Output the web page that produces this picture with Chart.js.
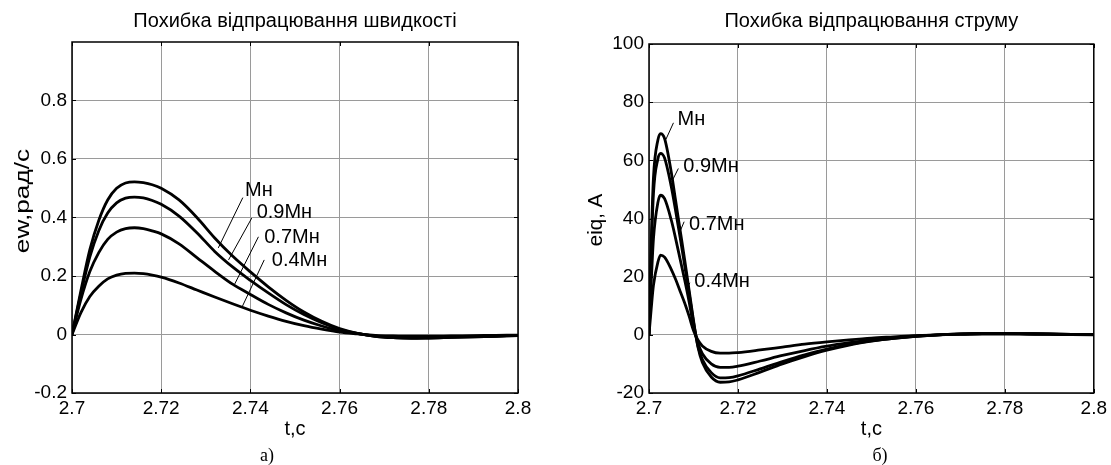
<!DOCTYPE html>
<html>
<head>
<meta charset="utf-8">
<script src="https://cdn.jsdelivr.net/npm/chart.js@4.4.1/dist/chart.umd.min.js"></script>
<style>
  body { margin: 0; background: #fff; width: 1111px; height: 465px; position: relative; overflow: hidden; }
  canvas { position: absolute; top: 0; }
  #speed-chart { left: 0; }
  #current-chart { left: 560px; }
</style>
</head>
<body>
<canvas id="speed-chart" width="560" height="465"></canvas>
<canvas id="current-chart" width="551" height="465"></canvas>
<script>
// ── Data ─────────────────────────────────────────────────────────────────────
const LOADS = ['Мн', '0.9Мн', '0.7Мн', '0.4Мн'];

const X_TICKS   = [2.7, 2.72, 2.74, 2.76, 2.78, 2.8];
const EW_TICKS  = [-0.2, 0, 0.2, 0.4, 0.6, 0.8];
const EIQ_TICKS = [-20, 0, 20, 40, 60, 80, 100];

// speed error, rad/s
const T_SPEED = [2.700, 2.702, 2.704, 2.706, 2.708, 2.710, 2.712, 2.714, 2.716, 2.718,
                 2.720, 2.724, 2.728, 2.732, 2.736, 2.740, 2.744, 2.748, 2.752, 2.756,
                 2.760, 2.764, 2.768, 2.772, 2.776, 2.780, 2.785, 2.790, 2.795, 2.800];
const EW_MN  = [0, 0.15, 0.29, 0.39, 0.46, 0.50, 0.518, 0.522, 0.519, 0.512,
                0.500, 0.460, 0.400, 0.330, 0.268, 0.214, 0.163, 0.117, 0.077, 0.045,
                0.020, 0.004, -0.006, -0.011, -0.013, -0.012, -0.010, -0.008, -0.006, -0.004];
const EW_09  = [0, 0.14, 0.265, 0.355, 0.415, 0.45, 0.466, 0.470, 0.467, 0.458,
                0.445, 0.405, 0.348, 0.284, 0.231, 0.185, 0.142, 0.102, 0.068, 0.040,
                0.018, 0.004, -0.006, -0.011, -0.012, -0.012, -0.010, -0.008, -0.006, -0.004];
const EW_07  = [0, 0.12, 0.215, 0.28, 0.325, 0.35, 0.362, 0.365, 0.362, 0.354,
                0.344, 0.310, 0.263, 0.216, 0.172, 0.137, 0.103, 0.074, 0.049, 0.029,
                0.013, 0.003, -0.005, -0.009, -0.010, -0.010, -0.008, -0.007, -0.005, -0.003];
const EW_04  = [0, 0.075, 0.13, 0.165, 0.19, 0.203, 0.209, 0.210, 0.208, 0.203,
                0.196, 0.176, 0.152, 0.128, 0.105, 0.083, 0.063, 0.045, 0.030, 0.018,
                0.008, 0.002, -0.003, -0.005, -0.006, -0.006, -0.005, -0.004, -0.003, -0.002];

// current error, A
const T_CURRENT = [2.700, 2.7005, 2.701, 2.702, 2.7026, 2.7035, 2.705, 2.706, 2.707, 2.708,
                   2.709, 2.710, 2.711, 2.712, 2.714, 2.716, 2.718, 2.720, 2.725, 2.730,
                   2.735, 2.740, 2.745, 2.750, 2.755, 2.760, 2.765, 2.770, 2.775, 2.780,
                   2.785, 2.790, 2.795, 2.800];
const EIQ_MN = [0, 32, 54, 67, 69.2, 67.5, 56, 46, 36, 26,
                15.5, 5, -4.2, -9.5, -14.5, -16.3, -16.2, -15.5, -12.8, -10,
                -7.5, -5.3, -3.5, -2.2, -1.2, -0.5, 0, 0.3, 0.5, 0.5,
                0.4, 0.3, 0.15, 0.05];
const EIQ_09 = [0, 28, 48.5, 60.5, 62.4, 60.8, 51, 42.5, 33.5, 24,
                14.5, 4.5, -3.8, -8.5, -13, -14.8, -14.7, -14.1, -11.7, -9.2,
                -6.9, -4.9, -3.3, -2.1, -1.2, -0.5, 0, 0.3, 0.45, 0.5,
                0.4, 0.3, 0.15, 0.05];
const EIQ_07 = [0, 18, 33, 45.5, 48, 46.8, 39.5, 33, 26, 19,
                11.5, 3.2, -2.8, -6.5, -10, -11.2, -11.2, -10.8, -9, -7.1,
                -5.4, -3.9, -2.7, -1.7, -1, -0.4, 0, 0.25, 0.4, 0.4,
                0.35, 0.25, 0.12, 0.05];
const EIQ_04 = [0, 9, 17, 25, 27.4, 26.7, 22.5, 19, 15, 11,
                6.5, 1.5, -1.8, -3.8, -5.7, -6.3, -6.3, -6.1, -5.2, -4.2,
                -3.2, -2.4, -1.7, -1.1, -0.7, -0.3, 0, 0.15, 0.25, 0.25,
                0.2, 0.15, 0.08, 0.03];

// load labels with leader lines: text anchor, then line end near the text and on the curve (data units)
const EW_LEADERS = [
  { tx: 2.7388, ty: 0.491, x1: 2.7383, y1: 0.468, x2: 2.7328, y2: 0.296 },
  { tx: 2.7414, ty: 0.417, x1: 2.7403, y1: 0.398, x2: 2.7351, y2: 0.255 },
  { tx: 2.7431, ty: 0.332, x1: 2.7418, y1: 0.334, x2: 2.7363, y2: 0.167 },
  { tx: 2.7448, ty: 0.252, x1: 2.7431, y1: 0.255, x2: 2.7381, y2: 0.093 },
];
const EIQ_LEADERS = [
  { tx: 2.7064, ty: 73.9, x1: 2.7055, y1: 72.9, x2: 2.7038, y2: 67.2 },
  { tx: 2.7077, ty: 57.8, x1: 2.7066, y1: 57.2, x2: 2.7051, y2: 52.6 },
  { tx: 2.7090, ty: 38.1, x1: 2.7079, y1: 38.9, x2: 2.7068, y2: 34.9 },
  { tx: 2.7102, ty: 18.2, x1: 2.7092, y1: 17.9, x2: 2.7086, y2: 16.3 },
];

// ── Styling ──────────────────────────────────────────────────────────────────
const SANS  = '"Liberation Sans", Arial, sans-serif';
const SERIF = '"Liberation Serif", "Times New Roman", serif';
const GRID  = '#9a9a9a';

function points(xs, ys) {
  return xs.map((x, i) => ({ x, y: ys[i] }));
}

function fmtTick(v) {
  return String(+v.toFixed(2));
}

// text with optional rotation and horizontal stretch
function drawText(ctx, text, x, y, o) {
  ctx.save();
  ctx.translate(x, y);
  if (o.rotate) ctx.rotate(o.rotate);
  ctx.scale(o.sx || 1, 1);
  ctx.font = o.size + 'px ' + (o.family || SANS);
  ctx.textAlign = 'center';
  ctx.textBaseline = o.baseline || 'alphabetic';
  ctx.fillText(text, 0, 0);
  ctx.restore();
}

// ── Plugins ──────────────────────────────────────────────────────────────────
// Boxed axes with inward tick marks, plus title, y label and caption
const frame = {
  id: 'frame',
  afterDraw(chart, args, opts) {
    const { ctx, chartArea: a, scales: { x, y } } = chart;
    ctx.save();
    ctx.strokeStyle = '#000';
    ctx.lineWidth = 1.5;
    ctx.strokeRect(a.left, a.top, a.right - a.left, a.bottom - a.top);

    ctx.lineWidth = 1;
    ctx.beginPath();
    for (const t of x.ticks) {
      const px = Math.round(x.getPixelForValue(t.value)) + 0.5;
      ctx.moveTo(px, a.bottom); ctx.lineTo(px, a.bottom - 4);
      ctx.moveTo(px, a.top);    ctx.lineTo(px, a.top + 4);
    }
    for (const t of y.ticks) {
      const py = Math.round(y.getPixelForValue(t.value)) + 0.5;
      ctx.moveTo(a.left, py);  ctx.lineTo(a.left + 4, py);
      ctx.moveTo(a.right, py); ctx.lineTo(a.right - 4, py);
    }
    ctx.stroke();

    ctx.fillStyle = '#000';
    drawText(ctx, opts.title, (a.left + a.right) / 2, opts.titleY, { size: 20 });
    const yl = opts.yLabel;
    drawText(ctx, yl.text, yl.x, yl.y, { size: yl.size, sx: yl.sx, rotate: -Math.PI / 2, baseline: 'middle' });
    drawText(ctx, opts.caption, opts.captionX, opts.captionY, { size: 18, family: SERIF });
    ctx.restore();
  },
};

const leaders = {
  id: 'leaders',
  afterDatasetsDraw(chart, args, opts) {
    const { ctx, scales: { x, y } } = chart;
    ctx.save();
    ctx.strokeStyle = '#000';
    ctx.fillStyle = '#000';
    ctx.lineWidth = 1;
    ctx.font = '20px ' + SANS;
    ctx.textAlign = 'left';
    ctx.textBaseline = 'middle';
    opts.items.forEach((it, i) => {
      ctx.beginPath();
      ctx.moveTo(x.getPixelForValue(it.x1), y.getPixelForValue(it.y1));
      ctx.lineTo(x.getPixelForValue(it.x2), y.getPixelForValue(it.y2));
      ctx.stroke();
      ctx.fillText(LOADS[i], x.getPixelForValue(it.tx), y.getPixelForValue(it.ty));
    });
    ctx.restore();
  },
};

// ── Chart builder ────────────────────────────────────────────────────────────
function buildChart(id, cfg) {
  const ctx = document.getElementById(id).getContext('2d');
  return new Chart(ctx, {
    type: 'line',
    data: {
      datasets: cfg.series.map((ys, i) => ({
        label: LOADS[i],
        data: points(cfg.t, ys),
        borderColor: '#000',
        borderWidth: 2.8,
        pointRadius: 0,
        cubicInterpolationMode: 'monotone',
        fill: false,
      })),
    },
    options: {
      responsive: false,
      animation: false,
      layout: { padding: cfg.padding },
      plugins: {
        legend: { display: false },
        tooltip: { enabled: false },
        frame: cfg.frame,
        leaders: { items: cfg.leaders },
      },
      scales: {
        x: {
          type: 'linear',
          min: 2.7, max: 2.8,
          afterBuildTicks: s => { s.ticks = X_TICKS.map(v => ({ value: v })); },
          afterFit: s => { s.height = cfg.xHeight; },
          ticks: {
            color: '#000', padding: 4, maxRotation: 0, autoSkip: false,
            font: { size: 19, family: SANS },
            callback: fmtTick,
          },
          grid: { color: GRID, lineWidth: 1, drawTicks: false },
          border: { display: false },
          title: {
            display: true, text: 't,c', color: '#000', padding: 0,
            font: { size: 20, family: SANS },
          },
        },
        y: {
          type: 'linear',
          min: cfg.yMin, max: cfg.yMax,
          afterBuildTicks: s => { s.ticks = cfg.yTicks.map(v => ({ value: v })); },
          afterFit: s => { s.width = cfg.yWidth; },
          ticks: {
            color: '#000', padding: 5,
            font: { size: 19, family: SANS },
            callback: fmtTick,
          },
          grid: { color: GRID, lineWidth: 1, drawTicks: false },
          border: { display: false },
        },
      },
    },
    plugins: [frame, leaders],
  });
}

buildChart('speed-chart', {
  t: T_SPEED,
  series: [EW_MN, EW_09, EW_07, EW_04],
  yMin: -0.2, yMax: 1.0, yTicks: EW_TICKS,
  padding: { top: 42, right: 42, bottom: 24, left: 0 },
  xHeight: 48, yWidth: 72,
  leaders: EW_LEADERS,
  frame: {
    title: 'Похибка відпрацювання швидкості', titleY: 27,
    yLabel: { text: 'ew,рад/с', x: 23, y: 201, size: 21, sx: 1.25 },
    caption: 'а)', captionX: 267, captionY: 461,
  },
});

buildChart('current-chart', {
  t: T_CURRENT,
  series: [EIQ_MN, EIQ_09, EIQ_07, EIQ_04],
  yMin: -20, yMax: 100, yTicks: EIQ_TICKS,
  padding: { top: 44, right: 17, bottom: 24, left: 0 },
  xHeight: 48, yWidth: 89,
  leaders: EIQ_LEADERS,
  frame: {
    title: 'Похибка відпрацювання струму', titleY: 27,
    yLabel: { text: 'eiq, A', x: 36.5, y: 220, size: 20.5, sx: 1 },
    caption: 'б)', captionX: 320, captionY: 461,
  },
});
</script>
</body>
</html>
